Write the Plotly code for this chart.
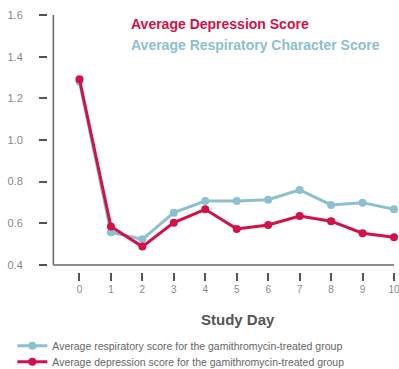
import plotly.graph_objects as go

days = [0, 1, 2, 3, 4, 5, 6, 7, 8, 9, 10]
respiratory = [1.28, 0.557, 0.523, 0.651, 0.707, 0.707, 0.713, 0.76, 0.688, 0.699, 0.667]
depression = [1.291, 0.584, 0.488, 0.603, 0.667, 0.573, 0.592, 0.635, 0.61, 0.552, 0.533]
y_ticks = [0.4, 0.6, 0.8, 1.0, 1.2, 1.4, 1.6]
y_labels = ["0.4", "0.6", "0.8", "1.0", "1.2", "1.4", "1.6"]

RED = "#D4104A"
BLUE = "#8CC0CF"
FONT = "Liberation Sans"

fig = go.Figure()
fig.add_trace(go.Scatter(
    x=days, y=respiratory, mode="lines+markers", cliponaxis=False, legend="legend",
    name="Average respiratory score for the gamithromycin-treated group",
    line=dict(color=BLUE, width=3), marker=dict(color=BLUE, size=8)))
fig.add_trace(go.Scatter(
    x=days, y=depression, mode="lines+markers", cliponaxis=False, legend="legend2",
    name="Average depression score for the gamithromycin-treated group",
    line=dict(color=RED, width=3), marker=dict(color=RED, size=8)))

# detached axis lines
fig.add_shape(type="line", xref="x", yref="y", x0=-0.83, x1=-0.83, y0=0.4, y1=1.6,
              line=dict(color="#666666", width=1.5))
fig.add_shape(type="line", xref="x", yref="y", x0=-0.83, x1=10, y0=0.4, y1=0.4,
              line=dict(color="#666666", width=1.5))

fig.add_annotation(x=0.235, y=0.965, xref="paper", yref="paper", xanchor="left", yanchor="middle",
                   text="<b>Average Depression Score</b>", showarrow=False,
                   font=dict(color=RED, size=14, family=FONT))
fig.add_annotation(x=0.235, y=0.883, xref="paper", yref="paper", xanchor="left", yanchor="middle",
                   text="<b>Average Respiratory Character Score</b>", showarrow=False,
                   font=dict(color=BLUE, size=14, family=FONT))
fig.add_annotation(x=0.55, y=-0.183, xref="paper", yref="paper", xanchor="center", yanchor="middle",
                   text="<b>Study Day</b>", showarrow=False,
                   font=dict(color="#555555", size=15, family=FONT))

legend_style = dict(xanchor="left", yanchor="middle",
                    font=dict(size=10.5, color="#666666", family=FONT),
                    itemwidth=30, tracegroupgap=0, bgcolor="rgba(0,0,0,0)")

fig.update_layout(
    width=399, height=369,
    margin=dict(l=47.5, r=5, t=15, b=97, autoexpand=False),
    paper_bgcolor="white", plot_bgcolor="white",
    font=dict(family=FONT, color="#888888", size=11),
    showlegend=True,
    hovermode=False,
    legend=dict(x=-0.103, y=-0.287, **legend_style),
    legend2=dict(x=-0.103, y=-0.349, **legend_style),
    xaxis=dict(range=[-1, 10], tickmode="array", tickvals=days, ticktext=[str(d) for d in days],
               showgrid=False, zeroline=False, showline=False, automargin=False,
               ticks="outside", ticklen=8, tickwidth=1.5, tickcolor="#555555",
               ticklabeloverflow="allow",
               tickfont=dict(size=10, color="#888888"), fixedrange=True),
    yaxis=dict(range=[0.366, 1.6], tickmode="array", tickvals=y_ticks, ticktext=y_labels,
               showgrid=False, zeroline=False, showline=False, automargin=False,
               ticks="outside", ticklen=8, tickwidth=1.5, tickcolor="#555555",
               ticklabelstandoff=14,
               tickfont=dict(size=11, color="#888888"), fixedrange=True),
)

fig.write_html(
    "out.html",
    config={"displayModeBar": False},
    post_script="document.body.style.margin='0';document.body.style.overflow='hidden';",
)
